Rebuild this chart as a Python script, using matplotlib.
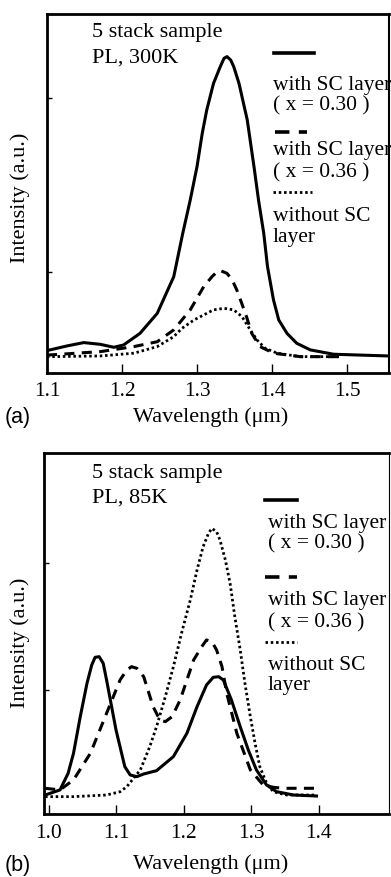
import numpy as np
import matplotlib
matplotlib.use("Agg")
import matplotlib.pyplot as plt
from matplotlib.lines import Line2D

plt.rcParams['font.family'] = ['Liberation Serif', 'DejaVu Serif']

# panel (a): PL at 300 K
xa_solid = [1.100, 1.104, 1.127, 1.149, 1.171, 1.189, 1.202, 1.224, 1.247, 1.269, 1.281, 1.291,
            1.300, 1.307, 1.313, 1.322, 1.331, 1.336, 1.340, 1.345, 1.349, 1.356, 1.367, 1.376,
            1.382, 1.389, 1.394, 1.402, 1.409, 1.420, 1.433, 1.451, 1.482, 1.556]
ya_solid = [0.548, 0.552, 0.575, 0.594, 0.584, 0.567, 0.580, 0.647, 0.762, 0.973, 1.222, 1.414,
            1.605, 1.797, 1.931, 2.084, 2.180, 2.228, 2.238, 2.218, 2.180, 2.084, 1.874, 1.605,
            1.414, 1.222, 1.031, 0.839, 0.724, 0.647, 0.590, 0.552, 0.527, 0.517]
xa_dash = [1.100, 1.104, 1.171, 1.216, 1.247, 1.269, 1.291, 1.309, 1.320, 1.327, 1.331, 1.340,
           1.347, 1.353, 1.358, 1.366, 1.373, 1.384, 1.402, 1.438, 1.490]
ya_dash = [0.523, 0.523, 0.542, 0.571, 0.599, 0.667, 0.782, 0.916, 0.973, 1.002, 1.008, 0.992,
           0.954, 0.897, 0.839, 0.743, 0.647, 0.571, 0.533, 0.513, 0.513]
xa_dot = [1.100, 1.171, 1.216, 1.247, 1.269, 1.280, 1.296, 1.309, 1.322, 1.336, 1.349, 1.360,
          1.371, 1.380, 1.391, 1.407, 1.438, 1.490]
ya_dot = [0.513, 0.517, 0.533, 0.571, 0.628, 0.676, 0.724, 0.753, 0.782, 0.791, 0.782, 0.743,
          0.667, 0.609, 0.561, 0.533, 0.513, 0.513]

# panel (b): PL at 85 K
xb_solid = [0.995, 1.017, 1.029, 1.037, 1.047, 1.057, 1.064, 1.069, 1.075, 1.081, 1.086, 1.100,
            1.113, 1.121, 1.131, 1.141, 1.160, 1.185, 1.205, 1.220, 1.234, 1.244, 1.252, 1.259,
            1.271, 1.284, 1.296, 1.308, 1.323, 1.338, 1.363, 1.397]
yb_solid = [0.171, 0.211, 0.342, 0.500, 0.789, 1.053, 1.197, 1.258, 1.263, 1.211, 1.079, 0.684,
            0.395, 0.329, 0.316, 0.337, 0.363, 0.474, 0.658, 0.868, 1.039, 1.100, 1.105, 1.079,
            0.921, 0.710, 0.526, 0.369, 0.250, 0.197, 0.171, 0.163]
xb_dash = [0.995, 1.017, 1.037, 1.062, 1.086, 1.106, 1.116, 1.123, 1.131, 1.141, 1.155, 1.165,
           1.173, 1.183, 1.195, 1.215, 1.227, 1.234, 1.242, 1.249, 1.257, 1.264, 1.279, 1.299,
           1.318, 1.333, 1.348, 1.397]
yb_dash = [0.224, 0.211, 0.290, 0.500, 0.816, 1.079, 1.158, 1.184, 1.171, 1.105, 0.868, 0.763,
           0.750, 0.789, 0.921, 1.237, 1.342, 1.395, 1.381, 1.316, 1.184, 0.974, 0.658, 0.369,
           0.250, 0.232, 0.224, 0.224]
xb_dot = [0.995, 1.037, 1.086, 1.106, 1.116, 1.136, 1.150, 1.160, 1.173, 1.185, 1.197, 1.210,
          1.220, 1.229, 1.237, 1.242, 1.249, 1.254, 1.262, 1.269, 1.276, 1.284, 1.291, 1.299,
          1.306, 1.313, 1.323, 1.333, 1.353, 1.397]
yb_dot = [0.158, 0.158, 0.171, 0.197, 0.237, 0.369, 0.553, 0.710, 0.947, 1.184, 1.447, 1.710,
          1.947, 2.131, 2.237, 2.276, 2.249, 2.184, 2.026, 1.842, 1.579, 1.316, 1.053, 0.789,
          0.579, 0.395, 0.264, 0.197, 0.171, 0.171]

ticks_a = [1.1, 1.2, 1.3, 1.4, 1.5]
ticks_b = [1.0, 1.1, 1.2, 1.3, 1.4]

W, H = 391, 877
fig = plt.figure(figsize=(W / 100, H / 100), dpi=100)

def fx(px):
    return px / W

def fy(py):
    return 1 - py / H

DASH = (0, (3.3, 2.4))
DOT = (0, (0.9, 1.0))

def make_axes(rect, xlim, ylim, ticks, right_lw):
    ax = fig.add_axes(rect)
    ax.set_xlim(*xlim)
    ax.set_ylim(*ylim)
    ax.set_xticks(ticks)
    ax.set_xticklabels(['%.1f' % t for t in ticks])
    ax.set_yticks([1, 2])
    ax.set_yticklabels([])
    for s in ['left', 'bottom', 'top']:
        ax.spines[s].set_linewidth(2.0)
    ax.spines['right'].set_linewidth(right_lw)
    ax.tick_params(axis='x', direction='in', length=6.5, width=1.0, labelsize=15.5, pad=7)
    ax.tick_params(axis='y', direction='in', length=3.5, width=1.0)
    return ax

# ---- panel (a)
ax1 = make_axes([fx(47), fy(372.5), fx(389) - fx(47), fy(14) - fy(372.5)],
                (1.1, 1.556), (0.422, 2.483), ticks_a, 1.5)
ax1.plot(xa_solid, ya_solid, color='black', lw=2.2, solid_joinstyle='round')
ax1.plot(xa_dash, ya_dash, color='black', lw=2.2, linestyle=DASH)
ax1.plot(xa_dot, ya_dot, color='black', lw=2.0, linestyle=DOT)

# ---- panel (b)
ax2 = make_axes([fx(44), fy(814), fx(389) - fx(44), fy(453) - fy(814)],
                (0.9933, 1.5044), (0.021, 2.871), ticks_b, 0.8)
ax2.plot(xb_solid, yb_solid, color='black', lw=2.2, solid_joinstyle='round')
ax2.plot(xb_dash, yb_dash, color='black', lw=2.2, linestyle=DASH)
ax2.plot(xb_dot, yb_dot, color='black', lw=2.0, linestyle=DOT)

# ---- texts
def txt(px, py, s, **kw):
    kw.setdefault('fontsize', 15.5)
    kw.setdefault('va', 'baseline')
    kw.setdefault('ha', 'left')
    fig.text(fx(px), fy(py), s, **kw)

def sample(x0, x1, py, style, lw=2.6):
    fig.add_artist(Line2D([fx(x0), fx(x1)], [fy(py), fy(py)], color='black', lw=lw,
                          linestyle=style, transform=fig.transFigure))

# titles
txt(92, 37, '5 stack sample', fontsize=16)
txt(92, 63, 'PL, 300K', fontsize=16)
txt(92, 478, '5 stack sample', fontsize=16)
txt(92, 503, 'PL, 85K', fontsize=16)

# legend (a)
sample(274, 314, 52.5, '-')
txt(273, 90, 'with SC layer')
txt(273, 110, '( x = 0.30 )')
sample(275, 307, 132, (0, (4.0, 2.6)))
txt(273, 155, 'with SC layer')
txt(273, 177, '( x = 0.36 )')
sample(273, 312, 192, DOT, lw=2.0)
txt(273, 221, 'without SC')
txt(273, 242, 'layer')

# legend (b)
sample(265, 297, 500, '-')
txt(268, 528, 'with SC layer')
txt(268, 548, '( x = 0.30 )')
sample(265, 297, 577, (0, (4.0, 2.6)))
txt(268, 605, 'with SC layer')
txt(268, 627, '( x = 0.36 )')
sample(265, 297, 642, DOT, lw=2.0)
txt(268, 670, 'without SC')
txt(268, 690, 'layer')

# axis labels
txt(20, 198, 'Intensity (a.u.)', fontsize=16, rotation=90, ha='center', va='center')
txt(20, 643, 'Intensity (a.u.)', fontsize=16, rotation=90, ha='center', va='center')
txt(211, 417, 'Wavelength (\u03bcm)', fontsize=16, ha='center', va='center')
txt(211, 864, 'Wavelength (\u03bcm)', fontsize=16, ha='center', va='center')
txt(5, 417, '(a)', fontsize=15.5, va='center', family=['Liberation Sans', 'DejaVu Sans'])
txt(5, 865, '(b)', fontsize=15.5, va='center', family=['Liberation Sans', 'DejaVu Sans'])

fig.savefig('out.png', dpi=100)
